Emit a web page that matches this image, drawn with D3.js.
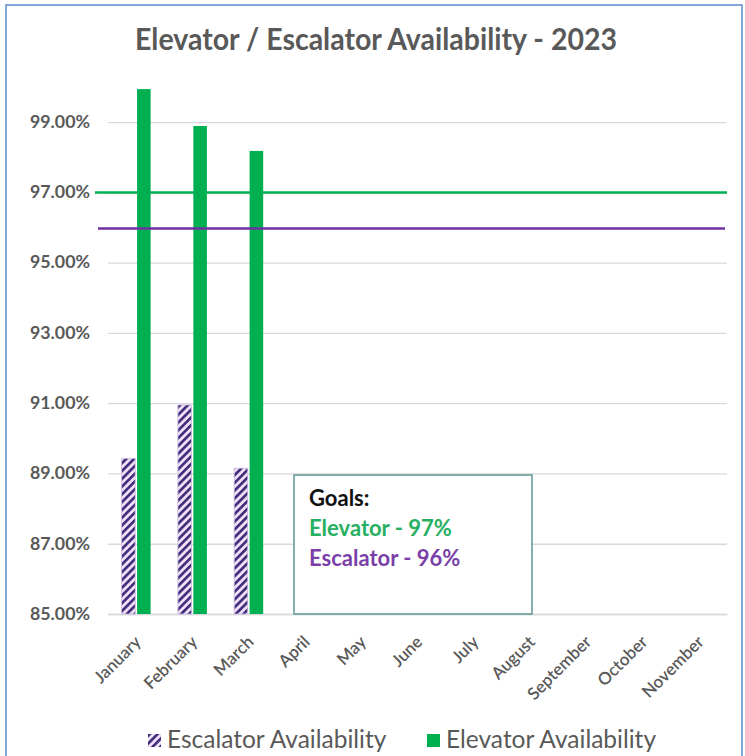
<!DOCTYPE html>
<html>
<head>
<meta charset="utf-8">
<script src="https://cdn.jsdelivr.net/npm/d3@7"></script>
<style>
  body { margin: 0; background: #fff; }
  svg { display: block; font-family: Lato, "Open Sans", sans-serif; }
</style>
</head>
<body>
<svg id="chart" width="745" height="756"></svg>
<script>
'use strict';

// chart data
var months = ['January', 'February', 'March', 'April', 'May', 'June',
    'July', 'August', 'September', 'October', 'November'];
var escalator = [89.43, 90.95, 89.15, null, null, null, null, null, null, null, null];
var elevator = [99.94, 98.89, 98.18, null, null, null, null, null, null, null, null];
var yTicks = [85, 87, 89, 91, 93, 95, 97, 99];
var goalNames = ['Elevator', 'Escalator'];
var goalValues = [97, 96];
var seriesNames = ['Escalator Availability', 'Elevator Availability'];

var GREEN = '#00b050';
var PURPLE = '#7030a0';
var GREY = '#595959';

var svg = d3.select('#chart');

/* hatch pattern for escalator bars */
var defs = svg.append('defs');
var pat = defs.append('pattern')
    .attr('id', 'hatch')
    .attr('patternUnits', 'userSpaceOnUse')
    .attr('width', 5.5).attr('height', 5.5)
    .attr('patternTransform', 'rotate(45)');
pat.append('rect').attr('width', 5.5).attr('height', 5.5).attr('fill', '#f3def6');
pat.append('rect').attr('width', 2.6).attr('height', 5.5).attr('fill', '#3a2a7a');

/* outer frame */
svg.append('rect')
    .attr('x', 6).attr('y', 5)
    .attr('width', 736).attr('height', 760)
    .attr('fill', 'none')
    .attr('stroke', '#5b8ad0')
    .attr('stroke-width', 1.5);

var x = d3.scaleBand().domain(months).range([108, 727]);
var y = d3.scaleLinear().domain([85, 100]).range([614, 87]);

/* title */
svg.append('text')
    .attr('x', 376).attr('y', 50)
    .attr('text-anchor', 'middle')
    .attr('font-size', 30)
    .attr('font-weight', 'bold')
    .attr('fill', GREY)
    .attr('textLength', 482)
    .attr('lengthAdjust', 'spacingAndGlyphs')
    .text('Elevator / Escalator Availability - 2023');

/* grid + y labels */
var yAxis = d3.axisLeft(y)
    .tickValues(yTicks)
    .tickSize(-(727 - 108))
    .tickPadding(18)
    .tickFormat(function(d) { return d.toFixed(2) + '%'; });

var gy = svg.append('g')
    .attr('transform', 'translate(108,0)')
    .call(yAxis);
gy.select('.domain').remove();
gy.selectAll('.tick line').attr('stroke', '#d9d9d9').attr('stroke-width', 1.3);
gy.selectAll('.tick text')
    .attr('fill', GREY)
    .attr('font-size', 16.5)
    .attr('font-weight', 'bold')
    .attr('font-family', 'Lato, sans-serif')
    .attr('textLength', 60)
    .attr('lengthAdjust', 'spacingAndGlyphs');

/* x labels */
var gx = svg.append('g')
    .attr('transform', 'translate(0,614)')
    .call(d3.axisBottom(x).tickSize(0).tickPadding(0));
gx.select('.domain').attr('stroke', '#d9d9d9').attr('stroke-width', 1.3);
gx.selectAll('.tick text')
    .attr('fill', GREY)
    .attr('font-size', 17)
    .attr('font-weight', 600)
    .attr('font-family', 'Lato, sans-serif')
    .attr('text-anchor', 'end')
    .attr('dy', null)
    .attr('y', 0)
    .attr('transform', 'translate(6,29) rotate(-45)');

/* bars */
var inner = d3.scaleBand().domain(seriesNames).range([0, 29]).paddingInner(0.12);
var offset = (x.bandwidth() - 29) / 2;

svg.append('g').selectAll('rect')
    .data(months.filter(function(m, i) { return escalator[i] != null; }))
    .enter().append('rect')
    .attr('x', function(m) { return x(m) + offset + inner(seriesNames[0]); })
    .attr('y', function(m) { return y(escalator[months.indexOf(m)]); })
    .attr('width', inner.bandwidth())
    .attr('height', function(m) { return y(85) - y(escalator[months.indexOf(m)]); })
    .attr('fill', 'url(#hatch)')
    .attr('stroke', '#cdb8e0')
    .attr('stroke-width', 0.8);

svg.append('g').selectAll('rect')
    .data(months.filter(function(m, i) { return elevator[i] != null; }))
    .enter().append('rect')
    .attr('x', function(m) { return x(m) + offset + inner(seriesNames[1]); })
    .attr('y', function(m) { return y(elevator[months.indexOf(m)]); })
    .attr('width', inner.bandwidth())
    .attr('height', function(m) { return y(85) - y(elevator[months.indexOf(m)]); })
    .attr('fill', GREEN);

/* goal lines */
svg.append('line')
    .attr('x1', 95).attr('x2', 727)
    .attr('y1', y(goalValues[0])).attr('y2', y(goalValues[0]))
    .attr('stroke', GREEN).attr('stroke-width', 2.5);
svg.append('line')
    .attr('x1', 98).attr('x2', 725)
    .attr('y1', y(goalValues[1]) + 1).attr('y2', y(goalValues[1]) + 1)
    .attr('stroke', PURPLE).attr('stroke-width', 2.5);

/* goals box */
svg.append('rect')
    .attr('x', 294).attr('y', 475)
    .attr('width', 238).attr('height', 139)
    .attr('fill', '#fff')
    .attr('stroke', '#5f9595')
    .attr('stroke-width', 1.5);

var box = svg.append('g').attr('font-size', 22).attr('font-weight', 'bold');
box.append('text').attr('x', 309).attr('y', 506).attr('fill', '#111').text('Goals:');
box.append('text').attr('x', 309).attr('y', 536).attr('fill', '#27b062')
    .text(goalNames[0] + ' - ' + goalValues[0] + '%');
box.append('text').attr('x', 309).attr('y', 566).attr('fill', '#7a3fa8')
    .text(goalNames[1] + ' - ' + goalValues[1] + '%');

/* legend */
var legendX = [148, 427];
var legend = svg.append('g').selectAll('g')
    .data(seriesNames)
    .enter().append('g')
    .attr('transform', function(d, i) { return 'translate(' + legendX[i] + ',734)'; });
legend.append('rect')
    .attr('width', 13).attr('height', 13)
    .attr('fill', function(d, i) { return i === 0 ? 'url(#hatch)' : GREEN; });
legend.append('text')
    .attr('x', 19).attr('y', 14)
    .attr('font-size', 24.5)
    .attr('fill', GREY)
    .text(function(d) { return d; });
</script>
</body>
</html>
